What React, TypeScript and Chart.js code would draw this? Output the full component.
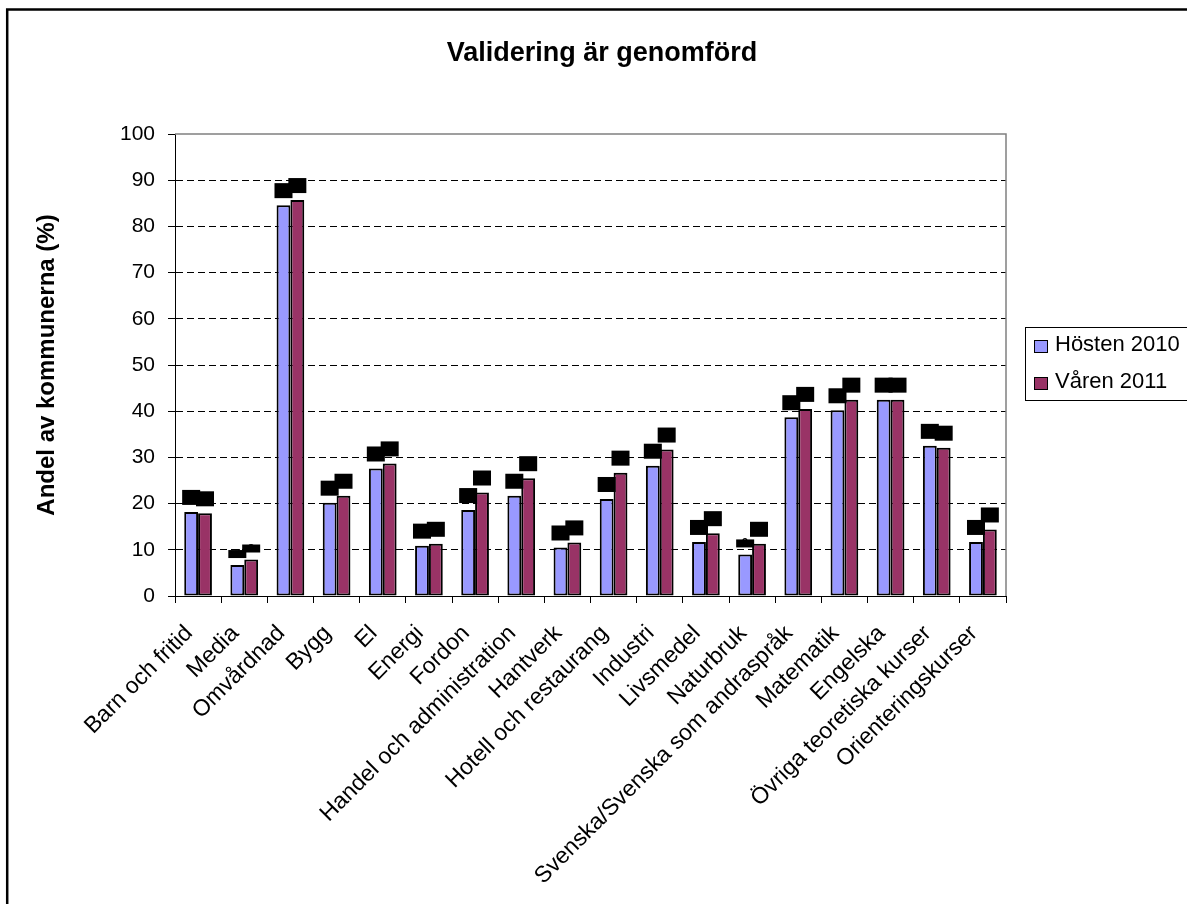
import React, { useEffect, useRef } from "react";
import { Chart, registerables } from "chart.js";

Chart.register(...registerables);

const FONT = "'Liberation Sans', Arial, sans-serif";

const titleText = "Validering är genomförd";
const yAxisTitle = "Andel av kommunerna (%)";

const categories = [
  "Barn och fritid",
  "Media",
  "Omvårdnad",
  "Bygg",
  "El",
  "Energi",
  "Fordon",
  "Handel och administration",
  "Hantverk",
  "Hotell och restaurang",
  "Industri",
  "Livsmedel",
  "Naturbruk",
  "Svenska/Svenska som andraspråk",
  "Matematik",
  "Engelska",
  "Övriga teoretiska kurser",
  "Orienteringskurser",
];

const seriesLabels = ["Hösten 2010", "Våren 2011"];
const hosten2010 = [18.2, 6.7, 84.6, 20.2, 27.6, 10.9, 18.6, 21.7, 10.5, 21.0, 28.2, 11.7, 9.0, 38.7, 40.2, 42.5, 32.5, 11.7];
const varen2011 = [17.9, 7.9, 85.7, 21.7, 28.7, 11.3, 22.4, 25.5, 11.6, 26.7, 31.7, 13.6, 11.3, 40.5, 42.5, 42.5, 32.1, 14.4];
const seriesColors = ["#9999FF", "#993366"];

const yMin = 0;
const yMax = 100;
const yStep = 10;

const decorPlugin = {
  id: "decor",
  afterDatasetsDraw(chart: any) {
    const ctx = chart.ctx;
    ctx.save();
    chart.data.datasets.forEach((ds: any, di: number) => {
      const meta = chart.getDatasetMeta(di);
      meta.data.forEach((bar: any, i: number) => {
        const v = ds.data[i];
        const txt = String(Math.round(v));
        const h = v < 9.5 ? 8 : 15;
        const w = 18;
        const bottom = bar.y - 7;
        ctx.fillStyle = "#000";
        ctx.fillRect(bar.x - w / 2, bottom - h, w, h);
        ctx.font = `bold 11px ${FONT}`;
        ctx.textAlign = "center";
        ctx.textBaseline = "middle";
        ctx.fillText(txt, bar.x, bottom - h / 2);
      });
    });
    ctx.restore();
  },
  afterDraw(chart: any) {
    const ctx = chart.ctx;
    const a = chart.chartArea;
    ctx.save();
    // plot area top/right border
    ctx.strokeStyle = "#808080";
    ctx.lineWidth = 1.5;
    ctx.beginPath();
    ctx.moveTo(a.left, a.top);
    ctx.lineTo(a.right, a.top);
    ctx.lineTo(a.right, a.bottom);
    ctx.stroke();

    // outer frame
    ctx.strokeStyle = "#000";
    ctx.lineWidth = 2.5;
    ctx.strokeRect(7.2, 9.5, 1300, 1000);

    // title
    ctx.fillStyle = "#000";
    ctx.font = `bold 27px ${FONT}`;
    ctx.textAlign = "center";
    ctx.textBaseline = "middle";
    ctx.fillText(titleText, 602, 54);

    // legend
    ctx.lineWidth = 1;
    ctx.strokeStyle = "#000";
    ctx.strokeRect(1025.5, 327.5, 200, 73);
    ctx.font = `22px ${FONT}`;
    ctx.textAlign = "left";
    chart.data.datasets.forEach((ds: any, di: number) => {
      const cy = 345 + di * 37;
      ctx.fillStyle = ds.backgroundColor;
      ctx.fillRect(1034, cy - 5, 14, 13);
      ctx.strokeRect(1034.5, cy - 4.5, 13, 12);
      ctx.fillStyle = "#000";
      ctx.fillText(ds.label, 1055, cy);
    });
    ctx.restore();
  },
};

export default function App() {
  const ref = useRef<HTMLCanvasElement | null>(null);

  useEffect(() => {
    if (!ref.current) return;
    const chart = new Chart(ref.current, {
      type: "bar",
      data: {
        labels: categories,
        datasets: [
          {
            label: seriesLabels[0],
            data: hosten2010,
            backgroundColor: seriesColors[0],
            borderColor: "#000",
            borderWidth: 2,
            borderSkipped: false,
          },
          {
            label: seriesLabels[1],
            data: varen2011,
            backgroundColor: seriesColors[1],
            borderColor: "#000",
            borderWidth: 2,
            borderSkipped: false,
          },
        ],
      },
      options: {
        responsive: false,
        animation: false,
        layout: { padding: { top: 134, right: 181, left: 0, bottom: 0 } },
        datasets: { bar: { categoryPercentage: 0.6, barPercentage: 1 } },
        plugins: {
          legend: { display: false },
          title: { display: false },
          tooltip: { enabled: false },
        },
        scales: {
          x: {
            afterFit: (s: any) => {
              s.height = 308;
            },
            grid: {
              drawOnChartArea: false,
              drawTicks: true,
              tickLength: 7,
              color: "#000",
              offset: true,
            },
            border: { display: true, color: "#000", width: 1 },
            ticks: {
              autoSkip: false,
              maxRotation: 45,
              minRotation: 45,
              padding: 17,
              labelOffset: -9,
              color: "#000",
              font: { family: FONT, size: 23 },
            },
          },
          y: {
            min: yMin,
            max: yMax,
            afterFit: (s: any) => {
              s.width = 175;
            },
            grid: {
              color: (c: any) => (c.tick && c.tick.value === yMax ? "rgba(0,0,0,0)" : "#000"),
              tickColor: "#000",
              tickLength: 7,
              lineWidth: 1,
            },
            border: { display: true, color: "#000", width: 1, dash: [7, 4] },
            ticks: {
              stepSize: yStep,
              padding: 13,
              color: "#000",
              font: { family: FONT, size: 21 },
            },
            title: {
              display: true,
              text: yAxisTitle,
              color: "#000",
              font: { family: FONT, size: 24, weight: "bold" },
              padding: { top: 33, bottom: 0 },
            },
          },
        },
      },
      plugins: [decorPlugin],
    });
    return () => chart.destroy();
  }, []);

  return (
    <div style={{ position: "absolute", left: 0, top: 0, width: 1187, height: 904, background: "#fff" }}>
      <canvas ref={ref} width={1187} height={904} style={{ display: "block" }} />
    </div>
  );
}
